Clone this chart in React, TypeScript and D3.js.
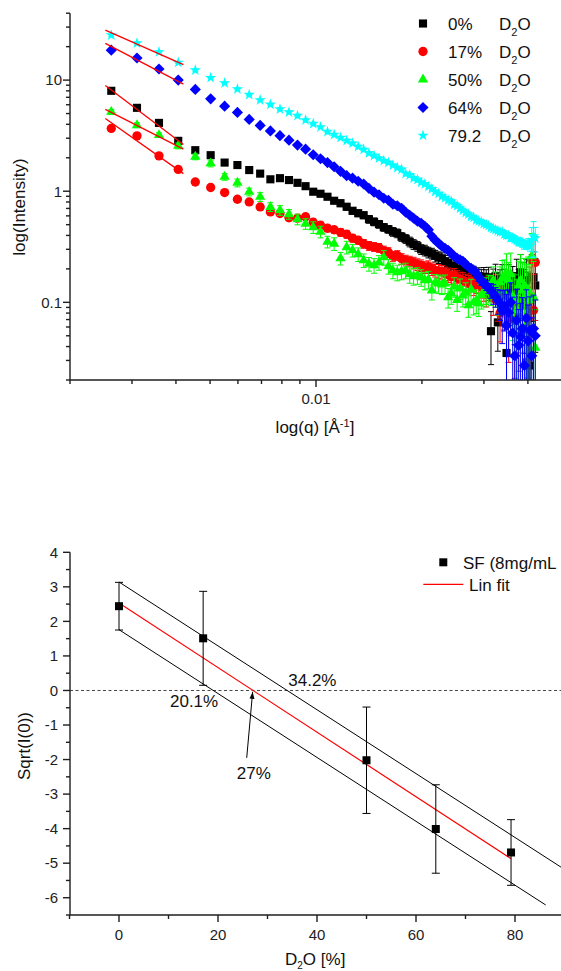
import React from "react";
import * as d3 from "d3";

const FONT = "'Liberation Sans', Arial, Helvetica, sans-serif";

// ---------------- Top chart: SANS curves ----------------
const Q = [
  0.00262, 0.0031, 0.00358, 0.00406, 0.00454, 0.00502, 0.0055, 0.00598, 0.00646, 0.00694,
  0.00742, 0.0079, 0.00838, 0.00886, 0.00934, 0.00982, 0.0103, 0.01078, 0.01126, 0.01174,
  0.01222, 0.0127, 0.01318, 0.01366, 0.01414, 0.01462, 0.0151, 0.01558, 0.01606, 0.01654,
  0.01702, 0.0175, 0.01798, 0.01846, 0.01894, 0.01942, 0.0199, 0.02038, 0.02086, 0.02134,
  0.02182, 0.0223, 0.02278, 0.02326, 0.02374, 0.02422, 0.0247, 0.02518, 0.02566, 0.02614,
  0.02662, 0.0271, 0.02758, 0.02806, 0.02854, 0.02902, 0.0295, 0.02998, 0.03046, 0.03094,
  0.03142, 0.0319, 0.03238, 0.03286, 0.03334, 0.03382, 0.0343, 0.03478, 0.03526, 0.03574,
  0.03622, 0.0367, 0.03718, 0.03766, 0.03814, 0.03862, 0.0391, 0.03958, 0.04006, 0.04054,
  0.04102, 0.0415, 0.04198,
];

const I_D0 = [
  8.01, 5.63, 4.12, 2.84, 2.34, 2.11, 1.81, 1.72, 1.55, 1.44,
  1.28, 1.31, 1.26, 1.19, 1.11, 0.99, 0.949, 0.892, 0.821, 0.78,
  0.725, 0.667, 0.634, 0.608, 0.56, 0.531, 0.505, 0.474, 0.455, 0.432,
  0.419, 0.389, 0.373, 0.351, 0.333, 0.32, 0.3, 0.294, 0.282, 0.276,
  0.262, 0.254, 0.249, 0.234, 0.222, 0.215, 0.211, 0.202, 0.196, 0.19,
  0.186, 0.182, 0.175, 0.179, 0.168, 0.172, 0.164, 0.17, 0.161, 0.168,
  0.055, 0.158, 0.172, 0.066, 0.151, 0.164, 0.142, 0.035, 0.158, 0.128,
  0.145, 0.104, 0.172, 0.128, 0.186, 0.142, 0.116, 0.158, 0.104, 0.027,
  0.168, 0.168, 0.142,
];
const I_D17 = [
  3.67, 3.15, 2.08, 1.57, 1.21, 1.08, 0.973, 0.847, 0.801, 0.722,
  0.651, 0.63, 0.577, 0.571, 0.589, 0.526, 0.494, 0.464, 0.45, 0.427,
  0.41, 0.378, 0.362, 0.337, 0.323, 0.316, 0.31, 0.291, 0.282, 0.26,
  0.265, 0.247, 0.239, 0.234, 0.227, 0.22, 0.215, 0.207, 0.209, 0.2,
  0.194, 0.192, 0.188, 0.182, 0.177, 0.17, 0.175, 0.166, 0.161, 0.158,
  0.153, 0.148, 0.155, 0.142, 0.148, 0.151, 0.138, 0.131, 0.118, 0.137,
  0.128, 0.109, 0.142, 0.104, 0.08, 0.128, 0.094, 0.113, 0.072, 0.098,
  0.104, 0.069, 0.088, 0.08, 0.104, 0.056, 0.094, 0.029, 0.072, 0.104,
  0.239, 0.085, 0.229,
];
const I_D50 = [
  5.18, 3.93, 3.2, 2.56, 2.04, 1.78, 1.35, 1.19, 0.986, 0.889,
  0.722, 0.674, 0.621, 0.56, 0.51, 0.474, 0.432, 0.351, 0.337, 0.249,
  0.313, 0.294, 0.271, 0.239, 0.222, 0.215, 0.229, 0.254, 0.211, 0.194,
  0.186, 0.19, 0.194, 0.179, 0.172, 0.175, 0.168, 0.158, 0.161, 0.128,
  0.151, 0.148, 0.145, 0.148, 0.111, 0.12, 0.139, 0.105, 0.134, 0.115,
  0.123, 0.094, 0.131, 0.1, 0.104, 0.098, 0.116, 0.123, 0.131, 0.137,
  0.134, 0.158, 0.139, 0.128, 0.151, 0.164, 0.172, 0.182, 0.158, 0.179,
  0.113, 0.104, 0.085, 0.142, 0.158, 0.128, 0.142, 0.116, 0.128, 0.104,
  0.26, 0.111, 0.039,
];
const I_D64 = [
  18.6, 15.8, 12.6, 10.0, 8.25, 6.78, 5.83, 5.12, 4.43, 3.91,
  3.49, 3.16, 2.88, 2.6, 2.39, 2.13, 1.96, 1.81, 1.66, 1.51,
  1.38, 1.31, 1.23, 1.16, 1.06, 0.98, 0.93, 0.865, 0.83, 0.764,
  0.74, 0.703, 0.647, 0.608, 0.571, 0.537, 0.515, 0.484, 0.45, 0.393,
  0.362, 0.34, 0.32, 0.306, 0.294, 0.276, 0.26, 0.249, 0.241, 0.234,
  0.22, 0.209, 0.202, 0.194, 0.182, 0.168, 0.156, 0.148, 0.142, 0.134,
  0.128, 0.12, 0.113, 0.104, 0.098, 0.085, 0.092, 0.062, 0.081, 0.1,
  0.053, 0.033, 0.069, 0.041, 0.049, 0.058, 0.027, 0.072, 0.045, 0.056,
  0.033, 0.058, 0.05,
];
const I_D79 = [
  25.4, 21.5, 17.9, 14.4, 12.3, 10.5, 9.4, 8.3, 7.4, 6.61,
  6.04, 5.48, 5.15, 4.79, 4.37, 4.06, 3.78, 3.44, 3.23, 3.03,
  2.85, 2.7, 2.52, 2.37, 2.2, 2.09, 1.98, 1.88, 1.81, 1.71,
  1.63, 1.57, 1.44, 1.4, 1.31, 1.27, 1.2, 1.16, 1.1, 1.05,
  0.99, 0.95, 0.9, 0.87, 0.83, 0.81, 0.76, 0.74, 0.7, 0.67,
  0.64, 0.62, 0.59, 0.58, 0.55, 0.54, 0.53, 0.51, 0.5, 0.49,
  0.47, 0.46, 0.45, 0.44, 0.43, 0.43, 0.41, 0.4, 0.4, 0.38,
  0.38, 0.37, 0.36, 0.35, 0.35, 0.34, 0.33, 0.33, 0.34, 0.32,
  0.362, 0.394, 0.378,
];

// relative errors (fraction of intensity)
const E_D0 = [
  0.03, 0.03, 0.03, 0.04, 0.04, 0.04, 0.04, 0.04, 0.05, 0.05,
  0.05, 0.05, 0.05, 0.05, 0.06, 0.06, 0.06, 0.06, 0.06, 0.07,
  0.07, 0.07, 0.07, 0.07, 0.08, 0.08, 0.08, 0.08, 0.08, 0.09,
  0.09, 0.09, 0.09, 0.1, 0.1, 0.1, 0.1, 0.11, 0.11, 0.11,
  0.12, 0.12, 0.12, 0.13, 0.13, 0.13, 0.14, 0.14, 0.15, 0.15,
  0.16, 0.16, 0.17, 0.18, 0.18, 0.19, 0.2, 0.21, 0.22, 0.23,
  0.5, 0.26, 0.28, 0.45, 0.3, 0.33, 0.4, 0.9, 0.38, 0.45,
  0.45, 0.6, 0.42, 0.55, 0.45, 0.6, 0.7, 0.55, 0.8, 1.1,
  0.6, 0.7, 0.75,
];
const E_D17 = [
  0.03, 0.03, 0.03, 0.04, 0.04, 0.04, 0.04, 0.05, 0.05, 0.05,
  0.05, 0.06, 0.06, 0.06, 0.06, 0.07, 0.07, 0.07, 0.07, 0.08,
  0.08, 0.08, 0.08, 0.09, 0.09, 0.09, 0.09, 0.1, 0.1, 0.1,
  0.1, 0.11, 0.11, 0.11, 0.12, 0.12, 0.12, 0.12, 0.13, 0.13,
  0.13, 0.14, 0.14, 0.14, 0.15, 0.15, 0.15, 0.16, 0.16, 0.17,
  0.17, 0.18, 0.18, 0.19, 0.19, 0.2, 0.21, 0.22, 0.23, 0.24,
  0.2, 0.3, 0.25, 0.35, 0.45, 0.3, 0.4, 0.35, 0.6, 0.45,
  0.5, 0.7, 0.6, 0.7, 0.6, 0.9, 0.7, 1.2, 0.9, 1.0,
  0.5, 1.1, 0.7,
];
const E_D50 = [
  0.05, 0.05, 0.05, 0.06, 0.06, 0.07, 0.07, 0.08, 0.08, 0.09,
  0.09, 0.1, 0.1, 0.11, 0.11, 0.12, 0.12, 0.12, 0.13, 0.13,
  0.13, 0.13, 0.14, 0.14, 0.14, 0.15, 0.15, 0.15, 0.15, 0.16,
  0.16, 0.16, 0.16, 0.17, 0.17, 0.17, 0.17, 0.18, 0.18, 0.18,
  0.18, 0.19, 0.19, 0.19, 0.2, 0.2, 0.2, 0.21, 0.21, 0.21,
  0.22, 0.22, 0.23, 0.23, 0.24, 0.24, 0.25, 0.26, 0.27, 0.28,
  0.3, 0.32, 0.35, 0.4, 0.38, 0.45, 0.4, 0.5, 0.45, 0.55,
  0.6, 0.7, 0.9, 0.65, 0.7, 0.8, 0.75, 0.9, 1.0, 1.1,
  0.6, 1.1, 1.2,
];
const E_D64 = [
  0.02, 0.02, 0.02, 0.02, 0.02, 0.03, 0.03, 0.03, 0.03, 0.03,
  0.03, 0.03, 0.03, 0.03, 0.03, 0.03, 0.04, 0.04, 0.04, 0.04,
  0.04, 0.04, 0.04, 0.04, 0.04, 0.04, 0.04, 0.04, 0.04, 0.05,
  0.05, 0.05, 0.05, 0.05, 0.05, 0.05, 0.05, 0.05, 0.05, 0.05,
  0.05, 0.05, 0.05, 0.05, 0.05, 0.05, 0.06, 0.06, 0.06, 0.06,
  0.06, 0.06, 0.07, 0.07, 0.08, 0.08, 0.09, 0.09, 0.1, 0.1,
  0.15, 0.2, 0.2, 0.25, 0.3, 0.5, 0.4, 0.9, 0.6, 0.5,
  1.1, 1.2, 0.9, 1.1, 1.0, 0.9, 1.3, 0.8, 1.1, 1.0,
  1.2, 1.0, 1.1,
];
const E_D79 = [
  0.02, 0.02, 0.02, 0.02, 0.02, 0.02, 0.02, 0.02, 0.02, 0.02,
  0.02, 0.02, 0.02, 0.02, 0.02, 0.02, 0.02, 0.02, 0.02, 0.02,
  0.03, 0.03, 0.03, 0.03, 0.03, 0.03, 0.03, 0.03, 0.03, 0.03,
  0.03, 0.03, 0.03, 0.03, 0.03, 0.03, 0.03, 0.03, 0.03, 0.03,
  0.03, 0.03, 0.03, 0.03, 0.03, 0.04, 0.04, 0.04, 0.04, 0.04,
  0.04, 0.04, 0.04, 0.04, 0.04, 0.04, 0.04, 0.04, 0.04, 0.04,
  0.04, 0.04, 0.05, 0.05, 0.05, 0.05, 0.06, 0.06, 0.06, 0.06,
  0.07, 0.07, 0.07, 0.08, 0.08, 0.08, 0.09, 0.09, 0.1, 0.1,
  0.3, 0.35, 0.25,
];

const SERIES_LABELS = ["0%", "17%", "50%", "64%", "79.2"];
const SERIES_COLORS = ["#000000", "#ff0000", "#00ff00", "#0000ff", "#00ffff"];

// power-law fits over the low-q range (two end points each)
const FIT_Q = [0.00252, 0.0042];
const FIT_D0 = [8.96, 2.63];
const FIT_D17 = [4.52, 1.44];
const FIT_D50 = [5.45, 2.39];
const FIT_D64 = [21.4, 9.2];
const FIT_D79 = [28.2, 13.8];

const TOP_Y_LABELS = [0.1, 1, 10];
const TOP_X_LABELS = [0.01];

// ---------------- Bottom chart: contrast match ----------------
const D2O = [0, 17, 50, 64, 79.2];
const SQRT_I0 = [2.44, 1.51, -2.02, -4.01, -4.69];
const SQRT_ERR = [0.69, 1.36, 1.54, 1.28, 0.95];
const LIN_FIT_X = [0, 79.2];
const LIN_FIT_Y = [2.53, -4.87];
const UPPER_X = [0, 90];
const UPPER_Y = [3.14, -5.18];
const LOWER_X = [0, 86.2];
const LOWER_Y = [1.76, -6.21];
const BOT_X_TICKS = [0, 20, 40, 60, 80];
const BOT_X_MINOR = [-10, 10, 30, 50, 70, 90];
const BOT_Y_TICKS = [-6, -5, -4, -3, -2, -1, 0, 1, 2, 3, 4];
const BOT_Y_MINOR = [-6.5, -5.5, -4.5, -3.5, -2.5, -1.5, -0.5, 0.5, 1.5, 2.5, 3.5];
const ANNOTATIONS = [
  { text: "34.2%", x: 34.2, y: 0.12 },
  { text: "20.1%", x: 10.3, y: -0.48 },
  { text: "27%", x: 23.8, y: -2.56 },
];
const ARROW_FROM = [25.8, -1.95];
const ARROW_TO = [27.0, -0.04];

export default function App() {
  const W = 561;
  const H = 971;
  const AX = "#1e1e1e";

  // top scales
  const xT = d3.scaleLog().domain([0.002, 0.05]).range([70, 562]);
  const yT = d3.scaleLog().domain([0.02, 40]).range([380, 13.2]);
  // bottom scales
  const xB = d3.scaleLinear().domain([-10, 90]).range([69.5, 564.5]);
  const yB = d3.scaleLinear().domain([-6.5, 4]).range([915, 552.3]);

  const series = [
    { I: I_D0, E: E_D0, fit: FIT_D0 },
    { I: I_D17, E: E_D17, fit: FIT_D17 },
    { I: I_D50, E: E_D50, fit: FIT_D50 },
    { I: I_D64, E: E_D64, fit: FIT_D64 },
    { I: I_D79, E: E_D79, fit: FIT_D79 },
  ];

  const symTypes = [d3.symbolSquare, d3.symbolCircle, d3.symbolTriangle, d3.symbolSquare, d3.symbolStar];
  const symSizes = [66, 68, 46, 62, 40];
  const symPaths = symTypes.map((t, i) => d3.symbol(t, symSizes[i])() as string);
  const symXf = (i: number, x: number, y: number) =>
    `translate(${x},${y})` + (i === 3 ? " rotate(45)" : "");

  const yTop = yT.range()[1];
  const yBot = yT.range()[0];

  const yTicks = yT.ticks();
  const xTicks = xT.ticks().filter((v) => xT(v) <= W);
  const isMajor = (v: number) => Math.abs(Math.log10(v) - Math.round(Math.log10(v))) < 1e-6;

  const fitLine = d3
    .line<number>()
    .x((_, i) => xT(FIT_Q[i]))
    .y((d) => yT(d));

  return (
    <svg
      width={W}
      height={H}
      style={{ position: "absolute", left: 0, top: 0, background: "#fff" }}
      fontFamily={FONT}
    >
      <defs>
        <clipPath id="clipTop">
          <rect x={70} y={0} width={W - 70} height={yBot} />
        </clipPath>
        <marker id="arrowHead" viewBox="0 0 10 10" refX="10" refY="5" markerWidth="7" markerHeight="9" orient="auto" markerUnits="userSpaceOnUse">
          <path d="M0,1.5 L10,5 L0,8.5 z" fill="#000" />
        </marker>
      </defs>
      <rect x={0} y={0} width={W} height={H} fill="#fff" />

      {/* ===================== TOP CHART ===================== */}
      <g clipPath="url(#clipTop)">
        {series.map((s, si) => (
          <g key={"s" + si}>
            <g stroke={SERIES_COLORS[si]} strokeWidth={1} fill="none">
              {Q.map((q, k) => {
                const v = s.I[k];
                const e = s.E[k] * v;
                const x = xT(q);
                const y1 = yT(v + e);
                const lo = v - e;
                const y2 = lo > 0.02 ? yT(lo) : yBot + 2;
                return (
                  <g key={k}>
                    <line x1={x} x2={x} y1={y1} y2={y2} />
                    <line x1={x - 3} x2={x + 3} y1={y1} y2={y1} />
                    {lo > 0.02 && <line x1={x - 3} x2={x + 3} y1={y2} y2={y2} />}
                  </g>
                );
              })}
            </g>
            <g fill={SERIES_COLORS[si]}>
              {Q.map((q, k) => (
                <path key={k} d={symPaths[si]} transform={symXf(si, xT(q), yT(s.I[k]))} />
              ))}
            </g>
          </g>
        ))}
        {series.map((s, si) => (
          <path key={"f" + si} d={fitLine(s.fit) as string} stroke="#ff0000" strokeWidth={1.3} fill="none" />
        ))}
      </g>

      {/* top axes */}
      <g stroke={AX} strokeWidth={1.4}>
        <line x1={70} x2={70} y1={yTop} y2={yBot} />
        <line x1={70} x2={W} y1={yBot} y2={yBot} />
        {yTicks.map((v, i) => (
          <line key={"yt" + i} x1={70} x2={70 - (isMajor(v) ? 7 : 4)} y1={yT(v)} y2={yT(v)} />
        ))}
        {xTicks.map((v, i) => (
          <line key={"xt" + i} x1={xT(v)} x2={xT(v)} y1={yBot} y2={yBot + (isMajor(v) ? 7 : 4)} />
        ))}
      </g>
      <g fontSize={15} fill="#222" textAnchor="end">
        {TOP_Y_LABELS.map((v) => (
          <text key={"yl" + v} x={62} y={yT(v) + 5.3}>
            {String(v)}
          </text>
        ))}
      </g>
      <g fontSize={15} fill="#222" textAnchor="middle">
        {TOP_X_LABELS.map((v) => (
          <text key={"xl" + v} x={xT(v)} y={403.5}>
            {String(v)}
          </text>
        ))}
      </g>
      <text x={315} y={433} fontSize={17} textAnchor="middle" fill="#111">
        log(q) [Å<tspan dy={-6} fontSize={11}>-1</tspan>
        <tspan dy={6}>]</tspan>
      </text>
      <text transform="translate(25,207) rotate(-90)" fontSize={17} textAnchor="middle" fill="#111">
        log(Intensity)
      </text>

      {/* top legend */}
      {SERIES_LABELS.map((lab, i) => {
        const ry = 23.5 + 28 * i;
        return (
          <g key={"lg" + i}>
            <path d={symPaths[i]} transform={symXf(i, 423, ry)} fill={SERIES_COLORS[i]} />
            <text x={448} y={ry + 6.5} fontSize={17} fill="#111">
              {lab}
            </text>
            <text x={499} y={ry + 6.5} fontSize={17} fill="#111">
              D<tspan dy={6} fontSize={11}>2</tspan>
              <tspan dy={-6}>O</tspan>
            </text>
          </g>
        );
      })}

      {/* ===================== BOTTOM CHART ===================== */}
      <line x1={70} x2={W} y1={yB(0)} y2={yB(0)} stroke="#444" strokeWidth={1} strokeDasharray="3,2.5" />
      <line x1={xB(UPPER_X[0])} y1={yB(UPPER_Y[0])} x2={xB(UPPER_X[1])} y2={yB(UPPER_Y[1])} stroke="#000" strokeWidth={1} />
      <line x1={xB(LOWER_X[0])} y1={yB(LOWER_Y[0])} x2={xB(LOWER_X[1])} y2={yB(LOWER_Y[1])} stroke="#000" strokeWidth={1} />
      <line x1={xB(LIN_FIT_X[0])} y1={yB(LIN_FIT_Y[0])} x2={xB(LIN_FIT_X[1])} y2={yB(LIN_FIT_Y[1])} stroke="#ff0000" strokeWidth={1.2} />
      <g stroke="#000" strokeWidth={1}>
        {D2O.map((d, i) => (
          <g key={"eb" + i}>
            <line x1={xB(d)} x2={xB(d)} y1={yB(SQRT_I0[i] + SQRT_ERR[i])} y2={yB(SQRT_I0[i] - SQRT_ERR[i])} />
            <line x1={xB(d) - 4} x2={xB(d) + 4} y1={yB(SQRT_I0[i] + SQRT_ERR[i])} y2={yB(SQRT_I0[i] + SQRT_ERR[i])} />
            <line x1={xB(d) - 4} x2={xB(d) + 4} y1={yB(SQRT_I0[i] - SQRT_ERR[i])} y2={yB(SQRT_I0[i] - SQRT_ERR[i])} />
          </g>
        ))}
      </g>
      {D2O.map((d, i) => (
        <rect key={"pt" + i} x={xB(d) - 4} y={yB(SQRT_I0[i]) - 4} width={8} height={8} fill="#000" />
      ))}
      {ANNOTATIONS.map((a) => (
        <text key={a.text} x={xB(a.x)} y={yB(a.y)} fontSize={17} fill="#111">
          {a.text}
        </text>
      ))}
      <line
        x1={xB(ARROW_FROM[0])}
        y1={yB(ARROW_FROM[1])}
        x2={xB(ARROW_TO[0])}
        y2={yB(ARROW_TO[1])}
        stroke="#000"
        strokeWidth={1}
        markerEnd="url(#arrowHead)"
      />

      {/* bottom axes */}
      <g stroke={AX} strokeWidth={1.4}>
        <line x1={70} x2={70} y1={yB(4)} y2={yB(-6.5)} />
        <line x1={70} x2={W} y1={yB(-6.5)} y2={yB(-6.5)} />
        {BOT_Y_TICKS.map((v) => (
          <line key={"by" + v} x1={70} x2={63} y1={yB(v)} y2={yB(v)} />
        ))}
        {BOT_Y_MINOR.map((v) => (
          <line key={"bym" + v} x1={70} x2={66} y1={yB(v)} y2={yB(v)} />
        ))}
        {BOT_X_TICKS.map((v) => (
          <line key={"bx" + v} x1={xB(v)} x2={xB(v)} y1={915} y2={922} />
        ))}
        {BOT_X_MINOR.map((v) => (
          <line key={"bxm" + v} x1={xB(v)} x2={xB(v)} y1={915} y2={919} />
        ))}
      </g>
      <g fontSize={15} fill="#222" textAnchor="end">
        {BOT_Y_TICKS.map((v) => (
          <text key={"byl" + v} x={58} y={yB(v) + 5.3}>
            {String(v)}
          </text>
        ))}
      </g>
      <g fontSize={15} fill="#222" textAnchor="middle">
        {BOT_X_TICKS.map((v) => (
          <text key={"bxl" + v} x={xB(v)} y={940}>
            {String(v)}
          </text>
        ))}
      </g>
      <text x={285} y={965} fontSize={17} fill="#111">
        D<tspan dy={4} fontSize={10}>2</tspan>
        <tspan dy={-4}>O [%]</tspan>
      </text>
      <text transform="translate(30,746) rotate(-90)" fontSize={17} textAnchor="middle" fill="#111">
        Sqrt(I(0))
      </text>

      {/* bottom legend */}
      <rect x={443.3 - 4} y={562.3 - 4} width={8} height={8} fill="#000" />
      <text x={463} y={568.5} fontSize={17} fill="#111">
        SF (8mg/mL
      </text>
      <line x1={423.3} x2={463.3} y1={584.3} y2={584.3} stroke="#ff0000" strokeWidth={1.2} />
      <text x={469} y={590.5} fontSize={17} fill="#111">
        Lin fit
      </text>
    </svg>
  );
}
